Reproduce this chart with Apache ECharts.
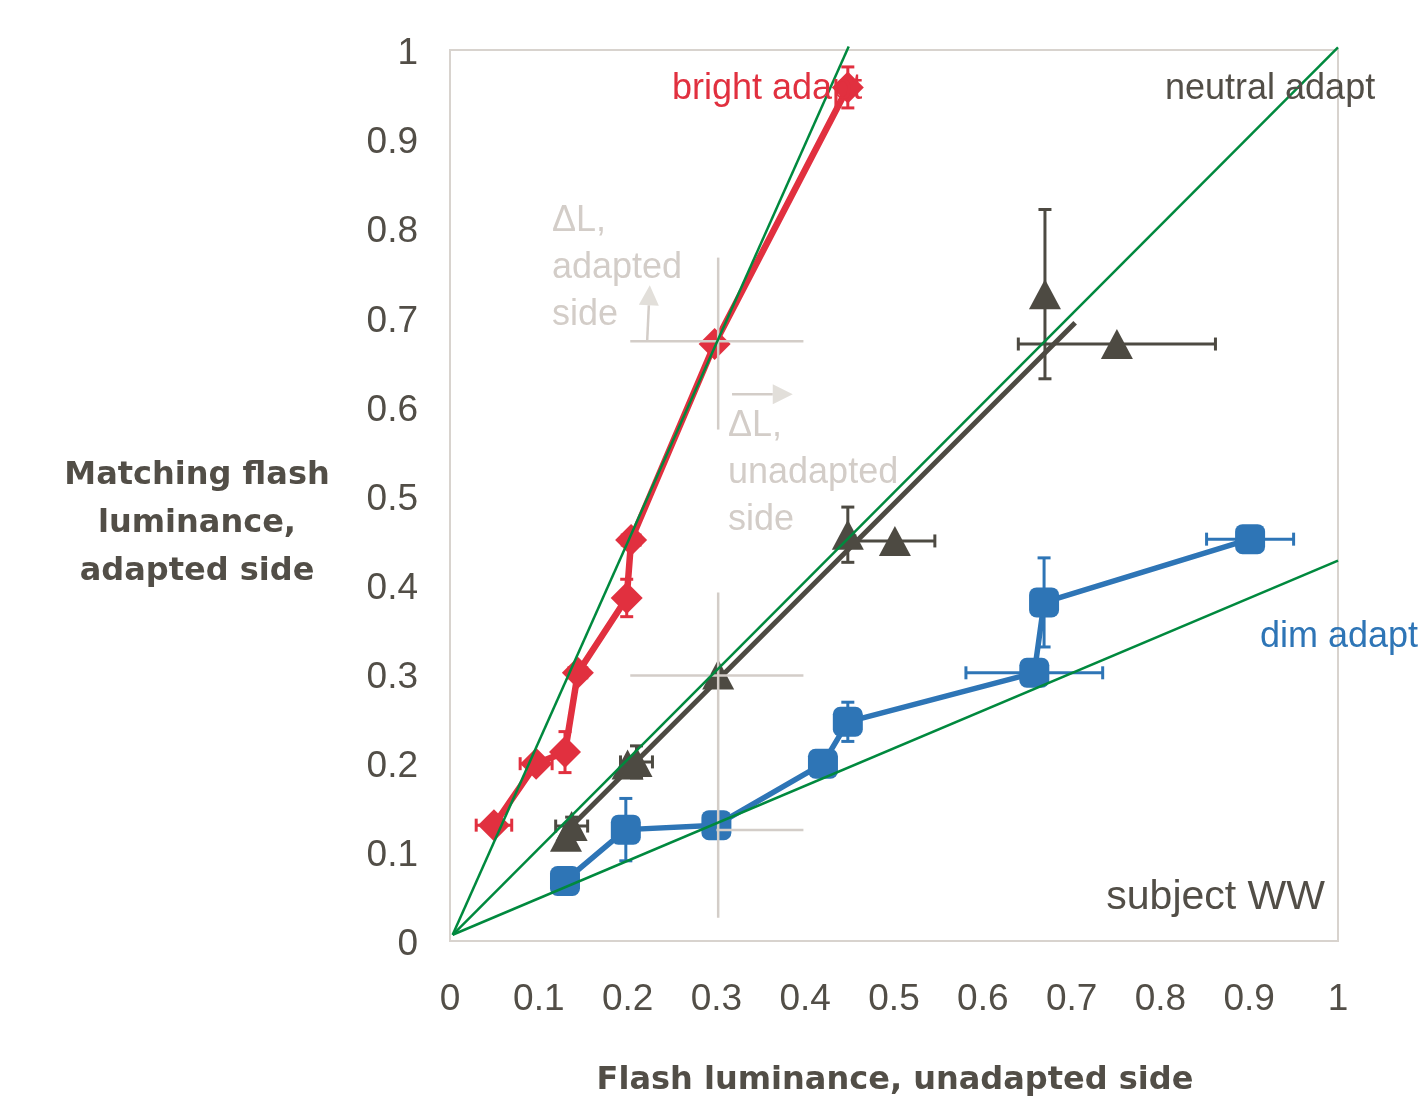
<!DOCTYPE html>
<html><head><meta charset="utf-8">
<script src="https://cdn.jsdelivr.net/npm/echarts@6/dist/echarts.min.js"></script>
<style>html,body{margin:0;padding:0;background:#fff}#c{width:1420px;height:1098px}</style>
</head><body><div id="c"></div>
<script>
// ---- data ----
const axisMin = 0, axisMax = 1, axisStep = 0.1;

// bright adapt (red diamonds): [x, y]
const brightPts  = [[0.0495,0.13],[0.097,0.199],[0.1295,0.212],[0.144,0.301],[0.199,0.385],[0.204,0.45],[0.298,0.67],[0.448,0.958]];
const brightXErr = [0.02, 0.018, 0, 0.01, 0, 0.01, 0, 0];
const brightYErr = [0, 0, 0.023, 0, 0.021, 0.008, 0, 0.023];

// neutral adapt (dark triangles)
const neutralPts  = [[0.1306,0.117],[0.137,0.129],[0.2,0.198],[0.21,0.201],[0.302,0.299],[0.448,0.456],[0.501,0.449],[0.67,0.726],[0.751,0.67]];
const neutralXErr = [0, 0.018, 0, 0.018, 0, 0, 0.045, 0, 0.111];
const neutralYErr = [0, 0.01, 0, 0.018, 0, 0.031, 0, 0.095, 0];
const neutralFit  = [[0.135,0.127],[0.704,0.694]];

// dim adapt (blue squares)
const dimPts  = [[0.1295,0.0674],[0.198,0.125],[0.3,0.13],[0.42,0.199],[0.448,0.246],[0.658,0.301],[0.669,0.38],[0.901,0.451]];
const dimXErr = [0, 0, 0, 0, 0, 0.077, 0, 0.049];
const dimYErr = [0, 0.035, 0, 0, 0.022, 0, 0.05, 0];

// green reference lines
const refBright  = [[0.003,0.007],[0.449,1.004]];
const refNeutral = [[0.003,0.007],[1,1.003]];
const refDim     = [[0.003,0.007],[1,0.427]];

// gray annotation crosshairs [x1,y1,x2,y2]
const crossSegs = [
  [0.203,0.673,0.398,0.673],[0.302,0.767,0.302,0.574],
  [0.203,0.298,0.398,0.298],[0.302,0.391,0.302,0.026],
  [0.300,0.1247,0.398,0.1247]
];
// arrows [x1,y1,xTip,yTip]
const arrowSegs = [[0.222,0.673,0.225,0.736],[0.3176,0.6135,0.386,0.6135]];

// ---- style ----
const RED = '#E1303F', BLUE = '#2E75B6', DARK = '#4D4A42', GREEN = '#00893E';
const TXT = '#524E47', LIGHT = '#D3CDC8';
const FONT = '"Liberation Sans", Arial, sans-serif';

function errSeries(pts, xe, ye, color) {
  return {
    type: 'custom', silent: true, z: 3,
    encode: {x: 0, y: 1},
    data: pts.map((p, i) => [p[0], p[1], xe[i], ye[i]]),
    renderItem(params, api) {
      const x = api.value(0), y = api.value(1), dx = api.value(2), dy = api.value(3);
      const st = {stroke: color, lineWidth: 3};
      const cap = 6.5, ch = [];
      if (dx > 0) {
        const a = api.coord([x - dx, y]), b = api.coord([x + dx, y]);
        ch.push({type: 'line', shape: {x1: a[0], y1: a[1], x2: b[0], y2: b[1]}, style: st});
        ch.push({type: 'line', shape: {x1: a[0], y1: a[1] - cap, x2: a[0], y2: a[1] + cap}, style: st});
        ch.push({type: 'line', shape: {x1: b[0], y1: b[1] - cap, x2: b[0], y2: b[1] + cap}, style: st});
      }
      if (dy > 0) {
        const a = api.coord([x, y - dy]), b = api.coord([x, y + dy]);
        ch.push({type: 'line', shape: {x1: a[0], y1: a[1], x2: b[0], y2: b[1]}, style: st});
        ch.push({type: 'line', shape: {x1: a[0] - cap, y1: a[1], x2: a[0] + cap, y2: a[1]}, style: st});
        ch.push({type: 'line', shape: {x1: b[0] - cap, y1: b[1], x2: b[0] + cap, y2: b[1]}, style: st});
      }
      return {type: 'group', children: ch};
    }
  };
}

function refLine(d) {
  return {type: 'line', data: d, symbol: 'none', silent: true, z: 6, clip: false,
    lineStyle: {color: GREEN, width: 2.5}};
}

const chart = echarts.init(document.getElementById('c'), null, {renderer: 'canvas'});
chart.setOption({
  animation: false,
  backgroundColor: '#fff',
  grid: {left: 450, right: 82, top: 50, bottom: 157, show: true, borderColor: '#D8D3CE', borderWidth: 2, backgroundColor: 'transparent'},
  xAxis: {type: 'value', min: axisMin, max: axisMax, interval: axisStep,
    axisLine: {show: false}, axisTick: {show: false}, splitLine: {show: false},
    axisLabel: {margin: 40, color: TXT, fontSize: 37, fontFamily: FONT}},
  yAxis: {type: 'value', min: axisMin, max: axisMax, interval: axisStep,
    axisLine: {show: false}, axisTick: {show: false}, splitLine: {show: false},
    axisLabel: {margin: 32, color: TXT, fontSize: 37, fontFamily: FONT,
      formatter: '{v|{value}}',
      rich: {v: {color: TXT, fontSize: 37, fontFamily: FONT, padding: [8, 0, 0, 0]}}}},
  series: [
    errSeries(brightPts, brightXErr, brightYErr, RED),
    errSeries(neutralPts, neutralXErr, neutralYErr, DARK),
    errSeries(dimPts, dimXErr, dimYErr, BLUE),
    {type: 'line', data: brightPts, symbol: 'diamond', symbolSize: 32, z: 4,
      lineStyle: {color: RED, width: 6.5}, itemStyle: {color: RED}},
    {type: 'line', data: dimPts, symbol: 'roundRect', symbolSize: 30, z: 4,
      lineStyle: {color: BLUE, width: 5.5}, itemStyle: {color: BLUE}},
    {type: 'line', data: neutralFit, symbol: 'none', z: 4,
      lineStyle: {color: DARK, width: 5}},
    {type: 'scatter', data: neutralPts, symbol: 'triangle', symbolSize: [32, 30], z: 4,
      itemStyle: {color: DARK, opacity: 1}},
    {
      type: 'custom', silent: true, z: 5, encode: {x: 0, y: 1},
      data: crossSegs.map(s => s),
      renderItem(params, api) {
        const a = api.coord([api.value(0), api.value(1)]), b = api.coord([api.value(2), api.value(3)]);
        return {type: 'line', shape: {x1: a[0], y1: a[1], x2: b[0], y2: b[1]}, style: {stroke: LIGHT, lineWidth: 2.5}};
      }
    },
    {
      type: 'custom', silent: true, z: 5, encode: {x: 0, y: 1},
      data: arrowSegs.map(s => s),
      renderItem(params, api) {
        const a = api.coord([api.value(0), api.value(1)]), b = api.coord([api.value(2), api.value(3)]);
        const dx = b[0] - a[0], dy = b[1] - a[1], L = Math.hypot(dx, dy);
        const ux = dx / L, uy = dy / L, hl = 20, hw = 10;
        const bx = b[0] - ux * hl, by = b[1] - uy * hl;
        return {type: 'group', children: [
          {type: 'line', shape: {x1: a[0], y1: a[1], x2: bx, y2: by}, style: {stroke: LIGHT, lineWidth: 2.5}},
          {type: 'polygon', shape: {points: [[b[0], b[1]], [bx - uy * hw, by + ux * hw], [bx + uy * hw, by - ux * hw]]}, style: {fill: '#E2DFDA'}}
        ]};
      }
    },
    refLine(refBright), refLine(refNeutral), refLine(refDim)
  ],
  graphic: [
    {type: 'text', x: 895, y: 1081, style: {text: 'Flash luminance, unadapted side', fill: TXT, font: 'bold 32px "DejaVu Sans"', align: 'center', verticalAlign: 'middle'}},
    {type: 'text', x: 197, y: 524, style: {text: 'Matching flash\nluminance,\nadapted side', fill: TXT, font: 'bold 32px "DejaVu Sans"', lineHeight: 48, align: 'center', verticalAlign: 'middle'}},
    {type: 'text', x: 672, y: 89, z: 10, style: {text: 'bright adapt', fill: RED, font: '36px ' + FONT, align: 'left', verticalAlign: 'middle'}},
    {type: 'text', x: 1165, y: 89, z: 10, style: {text: 'neutral adapt', fill: TXT, font: '36px ' + FONT, align: 'left', verticalAlign: 'middle'}},
    {type: 'text', x: 1260, y: 637, z: 10, style: {text: 'dim adapt', fill: BLUE, font: '36px ' + FONT, align: 'left', verticalAlign: 'middle'}},
    {type: 'text', x: 1325, y: 898, z: 10, style: {text: 'subject WW', fill: TXT, font: '41px ' + FONT, align: 'right', verticalAlign: 'middle'}},
    {type: 'text', x: 552, y: 268, z: 10, style: {text: 'ΔL,\nadapted\nside', fill: LIGHT, font: '36px ' + FONT, lineHeight: 47, align: 'left', verticalAlign: 'middle'}},
    {type: 'text', x: 728, y: 473, z: 10, style: {text: 'ΔL,\nunadapted\nside', fill: LIGHT, font: '36px ' + FONT, lineHeight: 47, align: 'left', verticalAlign: 'middle'}}
  ]
});
</script>
</body></html>
